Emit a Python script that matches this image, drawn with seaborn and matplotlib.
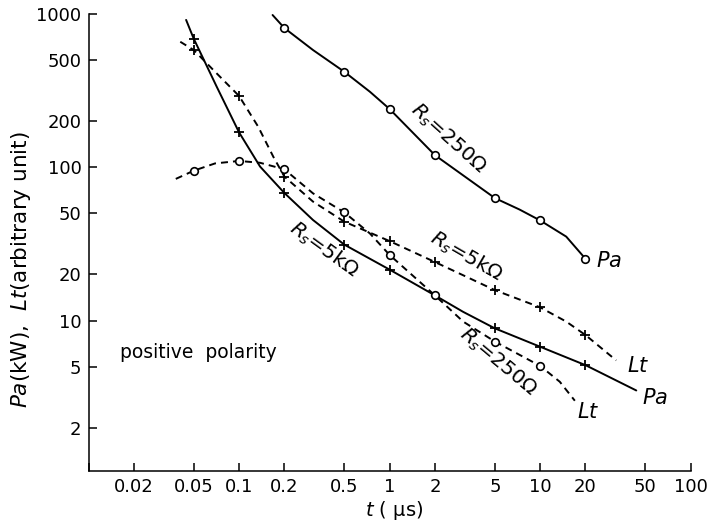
import pandas as pd
import matplotlib
matplotlib.use("Agg")
import matplotlib.pyplot as plt
from matplotlib.ticker import FixedLocator, FixedFormatter, NullLocator
import seaborn as sns

# ---- data: t in microseconds ----
# Pa, Rs = 250 ohm (solid line, open circles)
t_pa250 = [0.2, 0.5, 1, 2, 5, 10, 20]
pa250 = [810, 420, 240, 120, 63, 45, 25.3]
# points
pa250_curve_t = [0.167, 0.2, 0.31, 0.5, 0.74, 1, 2, 5, 7.3, 10, 14.9, 20]
pa250_curve = [985, 810, 582, 420, 311, 240, 120, 63, 53, 45, 35.3, 25.3]

# Pa, Rs = 5 kohm (solid line, crosses)
t_pa5k = [0.05, 0.1, 0.2, 0.5, 1, 5, 10, 20]
pa5k = [690, 169, 68, 31.3, 21.5, 8.9, 6.75, 5.12]
pa5k_curve_t = [0.0445, 0.05, 0.071, 0.1, 0.138, 0.2, 0.31, 0.5, 1, 2, 3.08, 5, 10, 20, 43.5]
pa5k_curve = [915, 690, 336, 169, 101, 68, 45.3, 31.3, 21.5, 14.6, 11.4, 8.9, 6.75, 5.12, 3.5]

# Lt, Rs = 5 kohm (dashed line, crosses)
t_lt5k = [0.05, 0.1, 0.2, 0.5, 1, 2, 5, 10, 20]
lt5k = [582, 292, 87, 44.2, 33, 24.1, 15.8, 12.2, 8.05]
lt5k_curve_t = [0.0407, 0.05, 0.0675, 0.1, 0.134, 0.169, 0.2, 0.31, 0.5, 1, 2, 5, 10,
                14.9, 20, 32]
lt5k_curve = [659, 582, 431, 292, 184, 117, 87, 59.7, 44.2, 33, 24.1, 15.8, 12.2,
              9.85, 8.05, 5.5]

# Lt, Rs = 250 ohm (dashed line, open circles)
t_lt250 = [0.05, 0.1, 0.2, 0.5, 1, 2, 5, 10]
lt250 = [95, 110, 97, 50.8, 26.8, 14.6, 7.3, 5.06]
lt250_curve_t = [0.038, 0.05, 0.0693, 0.1, 0.138, 0.2, 0.31, 0.5, 0.74, 1, 2, 3.08, 5,
                 10, 13.5, 17]
lt250_curve = [84, 95, 106, 110, 107, 97, 67.6, 50.8, 37, 26.8, 14.6, 9.85, 7.3,
               5.06, 3.99, 3.0]

x_ticks = [0.02, 0.05, 0.1, 0.2, 0.5, 1, 2, 5, 10, 20, 50, 100]
x_ticklabels = ["0.02", "0.05", "0.1", "0.2", "0.5", "1", "2", "5", "10", "20", "50", "100"]
y_ticks = [2, 5, 10, 20, 50, 100, 200, 500, 1000]
y_ticklabels = ["2", "5", "10", "20", "50", "100", "200", "500", "1000"]

sns.set_theme(style="ticks")
plt.rcParams["font.family"] = ["DejaVu Sans"]
plt.rcParams["mathtext.fontset"] = "dejavusans"
plt.rcParams["text.color"] = "black"

fig = plt.figure(figsize=(7.11, 5.26), dpi=100)
ax = fig.add_axes([88.5 / 711, 1 - 471 / 526, (690.7 - 88.5) / 711, (471 - 14) / 526])

LW = 1.4
dash = (0, (3.6, 2.6))


def curve(xs, ys, ls):
    df = pd.DataFrame({"t": xs, "v": ys})
    sns.lineplot(data=df, x="t", y="v", ax=ax, color="black", lw=LW,
                 linestyle=ls, sort=False, estimator=None, zorder=2)


def marks(xs, ys, kind):
    df = pd.DataFrame({"t": xs, "v": ys})
    if kind == "o":
        sns.scatterplot(data=df, x="t", y="v", ax=ax, marker="o", s=30,
                        facecolor="white", edgecolor="black", linewidth=1.2, zorder=4)
    else:
        sns.scatterplot(data=df, x="t", y="v", ax=ax, marker="+", s=60,
                        color="black", linewidth=1.3, zorder=4)


# curves
curve(pa250_curve_t, pa250_curve, "-")
curve(pa5k_curve_t, pa5k_curve, "-")
curve(lt5k_curve_t, lt5k_curve, dash)
curve(lt250_curve_t, lt250_curve, dash)

# data marks
marks(t_pa250, pa250, "o")
marks(t_pa5k, pa5k, "+")
marks(t_lt5k, lt5k, "+")
marks(t_lt250, lt250, "o")

ax.set_xscale("log")
ax.set_yscale("log")
ax.set_xlim(0.01, 100)
ax.set_ylim(1.044, 1000)

ax.xaxis.set_major_locator(FixedLocator(x_ticks + [0.01]))
ax.xaxis.set_major_formatter(FixedFormatter(x_ticklabels + [""]))
ax.yaxis.set_major_locator(FixedLocator(y_ticks))
ax.yaxis.set_major_formatter(FixedFormatter(y_ticklabels))
ax.xaxis.set_minor_locator(NullLocator())
ax.yaxis.set_minor_locator(NullLocator())
ax.tick_params(axis="both", direction="in", length=6, width=1.1, labelsize=13,
               colors="black")
ax.tick_params(axis="x", pad=5)
ax.tick_params(axis="y", pad=5)

for side in ("top", "right"):
    ax.spines[side].set_visible(False)
for side in ("left", "bottom"):
    ax.spines[side].set_linewidth(1.1)
    ax.spines[side].set_color("black")

ax.set_xlabel("")
ax.set_ylabel("")

# axis titles
fig.text(394 / 711, 1 - 510 / 526, r"$t$ ( μs)", ha="center", va="center", fontsize=14)
fig.text(21 / 711, 1 - 270 / 526, r"$Pa$(kW),  $Lt$(arbitrary unit)", rotation=90,
         ha="center", va="center", fontsize=15.5)


# curve annotations (placed in pixel coordinates of the figure)
def ftext(px, py, s, rot=0, size=14.5, **kw):
    fig.text(px / 711, 1 - py / 526, s, rotation=rot, ha="center", va="center",
             fontsize=size, rotation_mode="anchor", **kw)


ftext(448, 138, r"$R_s$=250Ω", rot=-42)
ftext(466, 256, r"$R_s$=5kΩ", rot=-30)
ftext(324, 249, r"$R_s$=5kΩ", rot=-36)
ftext(498, 362, r"$R_s$=250Ω", rot=-40)
ftext(609, 261, r"$Pa$", size=15)
ftext(638, 366, r"$Lt$", size=15)
ftext(655, 398, r"$Pa$", size=15)
ftext(588, 412, r"$Lt$", size=15)
fig.text(120 / 711, 1 - 353 / 526, "positive  polarity", ha="left", va="center",
         fontsize=13.5)

fig.savefig("out.png", dpi=100)
